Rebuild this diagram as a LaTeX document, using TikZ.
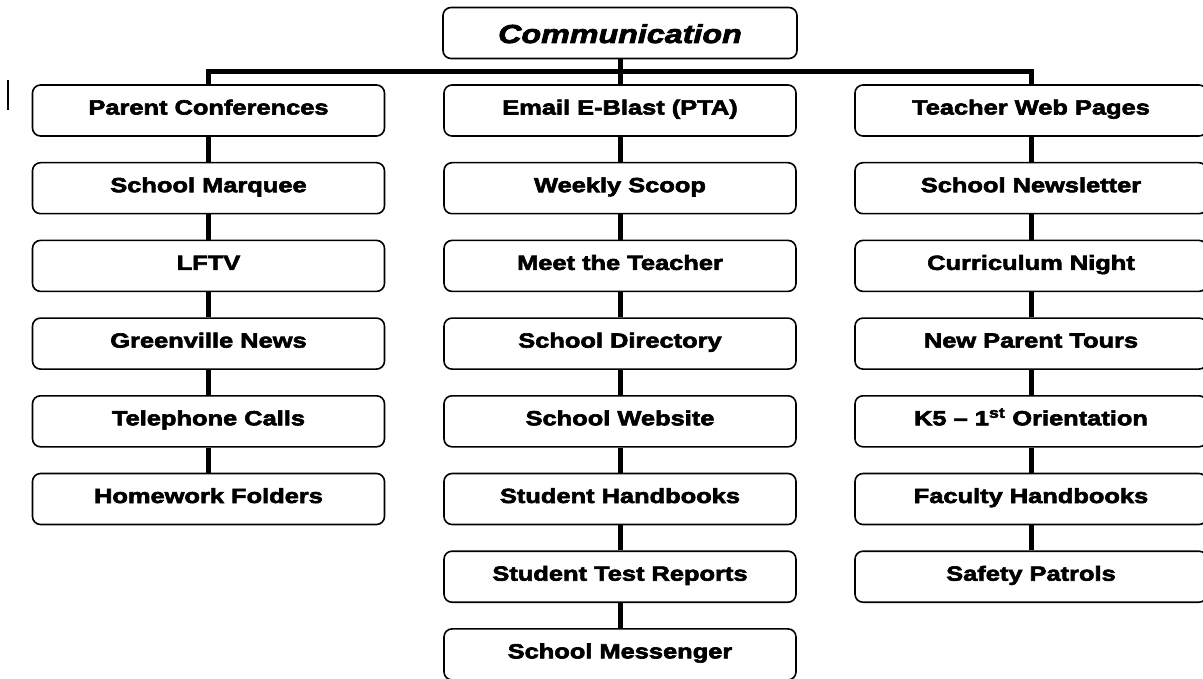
\documentclass[tikz,border=0pt]{standalone}
\usepackage{fontspec}
\newfontfamily\blk{Liberation Sans}[FakeBold=3,FakeStretch=1.24]
\begin{document}
\begin{tikzpicture}[x=1pt,y=-1pt,
  box/.style={draw,line width=1.6pt,rounded corners=8pt,minimum width=352pt,minimum height=51pt,
    inner sep=0pt,text height=16pt,text depth=8pt,font=\blk\bfseries\fontsize{20.5}{24}\selectfont},
  conn/.style={line width=5pt}]
\useasboundingbox (0,0) rectangle (1203,679);
\clip (0,0) rectangle (1203,679);
% stray mark
\draw[line width=1.5pt] (8,80) -- (8,110);
% top
\node[box,minimum width=354pt,text height=24pt,text depth=4pt,font=\blk\bfseries\itshape\fontsize{26}{30}\selectfont] (top) at (620,33) {Communication};
\coordinate (bar) at (620,72);
% left
\foreach \i/\n/\t in {0/l0/Parent Conferences,1/l1/School Marquee,2/l2/LFTV,3/l3/Greenville News,4/l4/Telephone Calls,5/l5/Homework Folders}
  \node[box] (\n) at (208.5,{85+77.7*\i+25.5}) {\t};
\foreach \i/\n/\t in {0/m0/Email E-Blast (PTA),1/m1/Weekly Scoop,2/m2/Meet the Teacher,3/m3/School Directory,4/m4/School Website,5/m5/Student Handbooks,6/m6/Student Test Reports,7/m7/School Messenger}
  \node[box] (\n) at (620,{85+77.7*\i+25.5}) {\t};
\foreach \i/\n/\t in {0/r0/Teacher Web Pages,1/r1/School Newsletter,2/r2/Curriculum Night,3/r3/New Parent Tours,4/r4/K5 – 1\textsuperscript{st} Orientation,5/r5/Faculty Handbooks,6/r6/Safety Patrols}
  \node[box] (\n) at (1031,{85+77.7*\i+25.5}) {\t};
% connectors
\draw[conn] (top.south) -- (m0.north);
\draw[conn] (l0.north) |- (bar) -| (r0.north);
\foreach \a/\b in {l0/l1,l1/l2,l2/l3,l3/l4,l4/l5,m0/m1,m1/m2,m2/m3,m3/m4,m4/m5,m5/m6,m6/m7,r0/r1,r1/r2,r2/r3,r3/r4,r4/r5,r5/r6}
  \draw[conn] (\a.south) -- (\b.north);
\end{tikzpicture}
\end{document}
